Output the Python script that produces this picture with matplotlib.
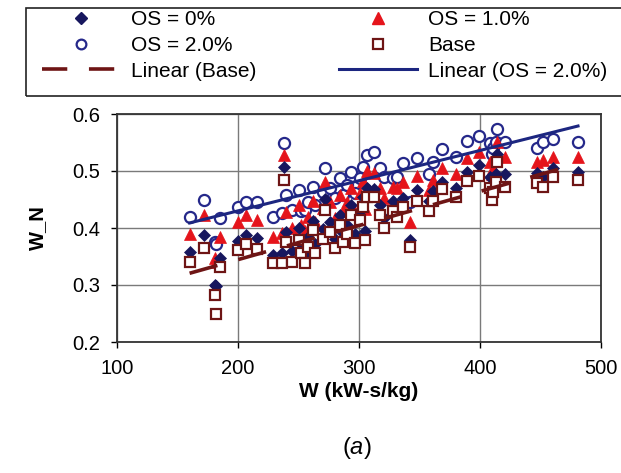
import numpy as np
import matplotlib
matplotlib.use("Agg")
import matplotlib.pyplot as plt
from matplotlib.lines import Line2D
from matplotlib.patches import Rectangle

plt.rcParams['font.family'] = ['Liberation Sans', 'DejaVu Sans']
plt.rcParams['mathtext.fontset'] = 'custom'
plt.rcParams['mathtext.rm'] = 'Liberation Sans'
plt.rcParams['mathtext.it'] = 'Liberation Sans:italic'

# Specific work W (kW-s/kg) for each operating point
w = [160, 172, 181, 182, 185, 200, 207, 216, 229, 236, 238, 240, 245, 250,
     252, 255, 258, 262, 264, 270, 272, 276, 280, 284, 287, 290, 293, 297,
     301, 303, 305, 307, 312, 317, 321, 328, 331, 336, 342, 348, 358, 361,
     369, 380, 389, 399, 408, 410, 411, 413, 414, 421, 447, 452, 460, 481]

# Normalised work W_N for each overspray level
base = [.340, .365, .282, .250, .332, .362, .372, .364, .338, .339, .484, .376,
        .340, .379, .356, .339, .367, .396, .356, .380, .432, .393, .365, .405,
        .376, .390, .423, .374, .414, .437, .379, .455, .454, .423, .400, .430,
        .420, .437, .367, .447, .430, .447, .468, .455, .482, .491, .470, .449,
        .463, .480, .516, .472, .479, .472, .489, .484]
os0 = [.358, .388, .300, .298, .348, .378, .388, .382, .352, .356, .507, .393,
       .360, .400, .372, .355, .385, .413, .372, .398, .450, .410, .380, .422,
       .392, .405, .440, .390, .430, .455, .395, .470, .468, .440, .418, .447,
       .440, .452, .379, .467, .447, .465, .480, .470, .498, .510, .490, .465,
       .478, .495, .530, .495, .496, .490, .505, .498]
os1 = [.390, .423, .347, .340, .385, .411, .423, .414, .385, .392, .528, .428,
       .400, .440, .405, .395, .420, .447, .410, .435, .480, .445, .418, .458,
       .430, .445, .470, .428, .462, .483, .433, .500, .497, .470, .452, .472,
       .470, .480, .410, .491, .467, .484, .505, .495, .523, .533, .515, .495,
       .505, .525, .550, .525, .516, .520, .525, .525]
os2 = [.420, .449, .376, .372, .417, .437, .446, .446, .420, .426, .549, .458,
       .432, .467, .430, .432, .446, .472, .440, .463, .505, .470, .452, .488,
       .458, .475, .498, .462, .487, .507, .468, .528, .533, .505, .490, .487,
       .490, .514, .445, .523, .495, .516, .539, .525, .553, .561, .549, .530,
       .540, .551, .574, .551, .540, .551, .556, .551]

x_ticks = [100, 200, 300, 400, 500]
y_ticks = [0.2, 0.3, 0.4, 0.5, 0.6]

navy = '#17175e'
circ = '#25288a'
red = '#e5141b'
maroon = '#6e1515'
line_blue = '#1c2680'

W, H = 621, 473
fig = plt.figure(figsize=(W / 100, H / 100), dpi=100)
ax = fig.add_axes([117 / W, 1 - 342 / H, 484 / W, 228 / H])

ax.plot(w, os2, linestyle='none', marker='o', ms=8, mfc='white',
        mec=circ, mew=1.6, zorder=3)
ax.plot(w, os1, linestyle='none', marker='^', ms=8.5, mfc=red,
        mec=red, mew=0.5, zorder=4)
ax.plot(w, os0, linestyle='none', marker='D', ms=6, mfc=navy,
        mec=navy, mew=0.5, zorder=5)
ax.plot(w, base, linestyle='none', marker='s', ms=7, mfc='white',
        mec=maroon, mew=1.6, zorder=6)

# least-squares trend lines
xs = np.array([min(w), max(w)])
kb = np.polyfit(w, base, 1)
k2 = np.polyfit(w, os2, 1)
ax.plot(xs, np.polyval(kb, xs), color=maroon, lw=2.6,
        linestyle=(0, (8, 6)), zorder=7)
ax.plot(xs, np.polyval(k2, xs), color=line_blue, lw=2.2, zorder=7)

ax.set_xlim(100, 500)
ax.set_ylim(0.2, 0.6)
ax.set_xticks(x_ticks)
ax.set_yticks(y_ticks)
ax.set_xticklabels([str(v) for v in x_ticks])
ax.set_yticklabels([f'{v:.1f}' for v in y_ticks])
ax.tick_params(direction='out', length=4, width=1, labelsize=14.5, pad=8)
ax.grid(True, color='#7a7a7a', lw=1)
ax.set_axisbelow(True)
for s in ax.spines.values():
    s.set_color('#333333')
    s.set_linewidth(1.3)

ax.set_xlabel('W (kW-s/kg)', fontsize=15, fontweight='bold', labelpad=3)
ax.set_ylabel('W_N', fontsize=14.5, fontweight='bold', labelpad=18)
fig.text(357 / W, 1 - 448 / H, r'($\mathit{a}$)', fontsize=17,
         ha='center', va='center')

# legend box and entries
fig.patches.append(Rectangle((26 / W, 1 - 96 / H), 620 / W, 88 / H,
                             transform=fig.transFigure, fill=False,
                             edgecolor='#222222', lw=1.2))
handles = [
    Line2D([], [], linestyle='none', marker='D', ms=6, mfc=navy, mec=navy),
    Line2D([], [], linestyle='none', marker='o', ms=7, mfc='white', mec=circ, mew=1.6),
    Line2D([], [], color=maroon, lw=2.6, linestyle=(0, (7, 6))),
    Line2D([], [], linestyle='none', marker='^', ms=8, mfc=red, mec=red),
    Line2D([], [], linestyle='none', marker='s', ms=6.5, mfc='white', mec=maroon, mew=1.6),
    Line2D([], [], color=line_blue, lw=2.2),
]
labels = ['OS = 0%', 'OS = 2.0%', 'Linear (Base)',
          'OS = 1.0%', 'Base', 'Linear (OS = 2.0%)']
fig.legend(handles, labels, ncol=2, loc='upper left',
           bbox_to_anchor=(42 / W, 1 - 10 / H), fontsize=15,
           frameon=False, handlelength=3.75, handletextpad=0.5,
           columnspacing=4.0, labelspacing=0.33, borderpad=0,
           borderaxespad=0)

fig.savefig('out.png', dpi=100)
